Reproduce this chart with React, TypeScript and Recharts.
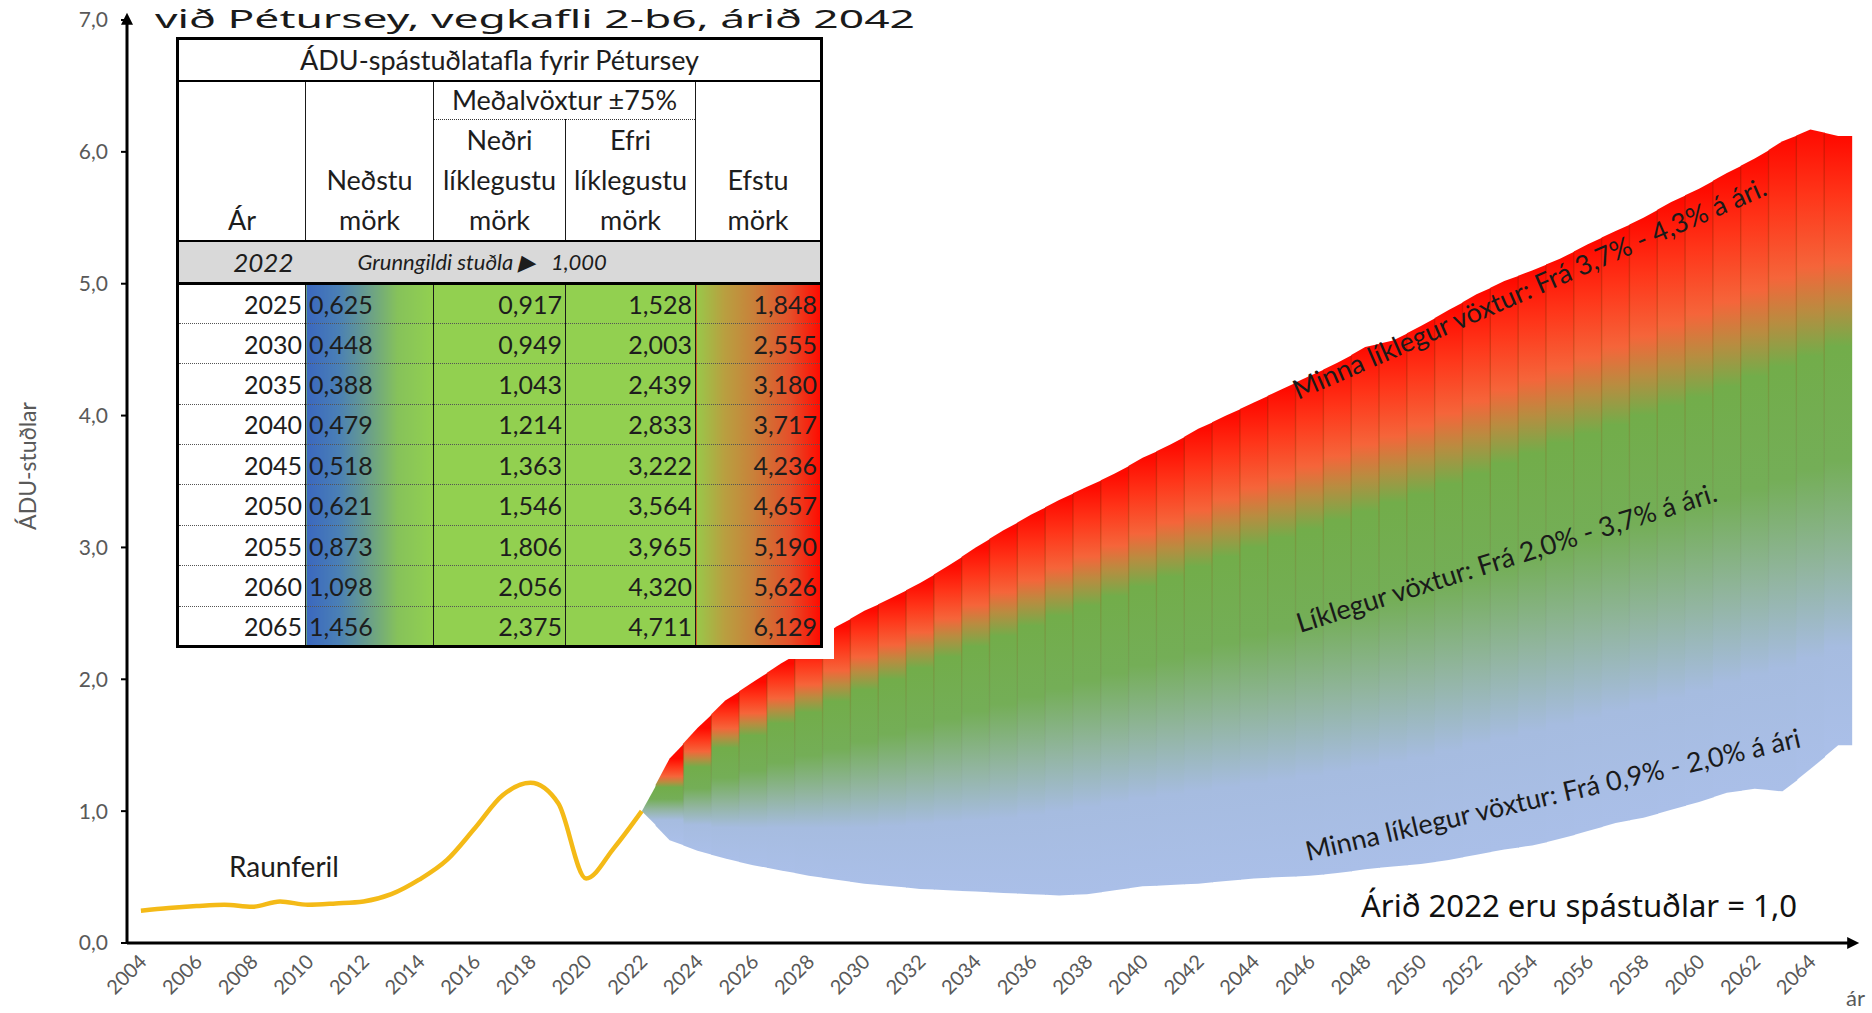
import React from 'react';
import { ComposedChart, XAxis, YAxis, Line, Bar } from 'recharts';

// ---------- layout constants ----------
const W = 1872;
const H = 1013;
const M_TOP = 20;
const M_RIGHT = 20;
const X_AXIS_H = 70;
const Y_AXIS_W = 127;
const Y_MAX = 7;
const PLOT_H = H - M_TOP - X_AXIS_H;
const PX = PLOT_H / Y_MAX;
const FONT = 'Lato, "Open Sans", sans-serif';

// ---------- data ----------
const years = [
  '2004', '2005', '2006', '2007', '2008', '2009', '2010', '2011', '2012', '2013',
  '2014', '2015', '2016', '2017', '2018', '2019', '2020', '2021', '2022', '2023',
  '2024', '2025', '2026', '2027', '2028', '2029', '2030', '2031', '2032', '2033',
  '2034', '2035', '2036', '2037', '2038', '2039', '2040', '2041', '2042', '2043',
  '2044', '2045', '2046', '2047', '2048', '2049', '2050', '2051', '2052', '2053',
  '2054', '2055', '2056', '2057', '2058', '2059', '2060', '2061', '2062', '2063',
  '2064', '2065',
];

// Raunferill (actual)
const realYears = [
  '2004', '2005', '2006', '2007', '2008', '2009', '2010', '2011', '2012', '2013',
  '2014', '2015', '2016', '2017', '2018', '2019', '2020', '2021', '2022',
];
const realValues = [
  0.245, 0.265, 0.28, 0.29, 0.275, 0.315, 0.29, 0.3, 0.315, 0.37,
  0.48, 0.63, 0.87, 1.12, 1.215, 1.06, 0.49, 0.72, 1.0,
];

// Forecast fan
const fanYears = [
  '2022', '2023', '2024', '2025', '2026', '2027', '2028', '2029', '2030', '2031',
  '2032', '2033', '2034', '2035', '2036', '2037', '2038', '2039', '2040', '2041',
  '2042', '2043', '2044', '2045', '2046', '2047', '2048', '2049', '2050', '2051',
  '2052', '2053', '2054', '2055', '2056', '2057', '2058', '2059', '2060', '2061',
  '2062', '2063', '2064', '2065',
];
const fanLow = [
  1.0, 0.78, 0.7, 0.64, 0.59, 0.55, 0.51, 0.48, 0.45, 0.43,
  0.41, 0.4, 0.39, 0.38, 0.37, 0.36, 0.37, 0.4, 0.43, 0.44,
  0.45, 0.47, 0.49, 0.5, 0.51, 0.53, 0.56, 0.58, 0.6, 0.63,
  0.67, 0.71, 0.74, 0.79, 0.85, 0.91, 0.95, 1.01, 1.07, 1.14,
  1.17, 1.15, 1.32, 1.5,
];
const fanLowLikely = [
  1.0, 0.96, 0.93, 0.917, 0.92, 0.93, 0.935, 0.94, 0.949, 0.965,
  0.985, 1.005, 1.025, 1.043, 1.075, 1.11, 1.145, 1.18, 1.214, 1.245,
  1.275, 1.305, 1.335, 1.363, 1.4, 1.435, 1.47, 1.51, 1.546, 1.6,
  1.65, 1.7, 1.755, 1.806, 1.855, 1.905, 1.955, 2.005, 2.056, 2.12,
  2.185, 2.25, 2.31, 2.375,
];
const fanHighLikely = [
  1.0, 1.2, 1.37, 1.528, 1.63, 1.73, 1.82, 1.91, 2.003, 2.09,
  2.18, 2.27, 2.355, 2.439, 2.52, 2.6, 2.68, 2.755, 2.833, 2.91,
  2.99, 3.07, 3.145, 3.222, 3.29, 3.36, 3.43, 3.5, 3.564, 3.645,
  3.725, 3.805, 3.885, 3.965, 4.035, 4.105, 4.18, 4.25, 4.32, 4.4,
  4.48, 4.555, 4.635, 4.711,
];
const fanHigh = [
  1.0, 1.4, 1.63, 1.84, 1.98, 2.12, 2.25, 2.4, 2.52, 2.62,
  2.73, 2.86, 3.0, 3.13, 3.25, 3.36, 3.46, 3.56, 3.68, 3.78,
  3.9, 4.0, 4.1, 4.2, 4.3, 4.4, 4.52, 4.57, 4.68, 4.8,
  4.92, 5.02, 5.1, 5.19, 5.3, 5.4, 5.5, 5.62, 5.72, 5.84,
  5.95, 6.08, 6.17, 6.12,
];

const yTicks = [0, 1, 2, 3, 4, 5, 6, 7];

// Table
const tableYears = ['2025', '2030', '2035', '2040', '2045', '2050', '2055', '2060', '2065'];
const tableLowest = ['0,625', '0,448', '0,388', '0,479', '0,518', '0,621', '0,873', '1,098', '1,456'];
const tableLowLikely = ['0,917', '0,949', '1,043', '1,214', '1,363', '1,546', '1,806', '2,056', '2,375'];
const tableHighLikely = ['1,528', '2,003', '2,439', '2,833', '3,222', '3,564', '3,965', '4,320', '4,711'];
const tableHighest = ['1,848', '2,555', '3,180', '3,717', '4,236', '4,657', '5,190', '5,626', '6,129'];

const chartData = years.map((yr) => {
  const ri = realYears.indexOf(yr);
  const fi = fanYears.indexOf(yr);
  return {
    year: yr,
    real: ri >= 0 ? realValues[ri] : null,
    band: fi >= 0 ? [fanLow[fi], fanHigh[fi]] : null,
  };
});

// ---------- fan column shape ----------
const FanShape = (props: any) => {
  const { x, y, width, payload } = props;
  if (!payload) return null;
  const i = fanYears.indexOf(payload.year);
  if (i < 0 || x == null || y == null) return null;
  const hi = fanHigh[i];
  const lo = fanLow[i];
  const yOf = (v: number) => y + (hi - v) * PX;
  const hasPrev = i > 0;
  const hasNext = i < fanYears.length - 1;
  const xc = x + width / 2;
  const xl = hasPrev ? x : xc;
  const xr = x + width + (hasNext ? 0.7 : 0);
  const lt = hasPrev ? yOf((fanHigh[i - 1] + hi) / 2) : yOf(hi);
  const lb = hasPrev ? yOf((fanLow[i - 1] + lo) / 2) : yOf(lo);
  const rt = hasNext ? yOf((fanHigh[i + 1] + hi) / 2) : yOf(hi);
  const rb = hasNext ? yOf((fanLow[i + 1] + lo) / 2) : yOf(lo);
  const ct = yOf(hi);
  const cb = yOf(lo);

  // gradient (first sliver uses the next column's colours)
  const g = i === 0 ? 1 : i;
  const gh = fanHigh[g];
  const gl = fanLow[g];
  const ghl = fanHighLikely[g];
  const gll = fanLowLikely[g];
  const gy1 = i === 0 ? yOf(gh) : ct;
  const gy2 = i === 0 ? yOf(gl) : cb;
  const span = gh - gl;
  const off = (v: number) => Math.max(0, Math.min(1, (gh - v) / span));
  const redBand = gh - ghl;
  const midBand = ghl - gll;
  const lowBand = gll - gl;
  const stops: [number, string][] = [
    [0, '#ff0a00'],
    [off(gh - 0.32 * redBand), '#ff3519'],
    [off(gh - 0.68 * redBand), '#f5653a'],
    [off(ghl + 0.1 * redBand), '#b98c40'],
    [off(ghl - 0.08 * midBand), '#72ad4a'],
    [off(ghl - 0.45 * midBand), '#74ae57'],
    [off(gll + 0.22 * midBand), '#92b5a0'],
    [off(gll - 0.15 * lowBand), '#a6bce0'],
    [1, '#aabfe8'],
  ];
  const gid = `fan-g-${i}`;
  const sid = `fan-s-${i}`;
  const pts = [
    [xl, lt],
    [xc, ct],
    [xr, rt],
    [xr, rb],
    [xc, cb],
    [xl, lb],
  ]
    .map((p) => `${p[0]},${p[1]}`)
    .join(' ');
  return (
    <g>
      <defs>
        <linearGradient id={gid} gradientUnits="userSpaceOnUse" x1={0} x2={0} y1={gy1} y2={gy2}>
          {stops.map((s, k) => (
            <stop key={k} offset={s[0]} stopColor={s[1]} />
          ))}
        </linearGradient>
        <linearGradient id={sid} gradientUnits="userSpaceOnUse" x1={0} x2={0} y1={gy1} y2={gy2}>
          <stop offset={0} stopColor="#b81000" stopOpacity={0.6} />
          <stop offset={off(ghl)} stopColor="#8a5a10" stopOpacity={0.28} />
          <stop offset={off(gll)} stopColor="#607080" stopOpacity={0.0} />
          <stop offset={1} stopColor="#607080" stopOpacity={0} />
        </linearGradient>
      </defs>
      <polygon points={pts} fill={`url(#${gid})`} stroke="none" />
      {hasPrev && i > 1 ? (
        <line x1={xl} y1={lt + 1} x2={xl} y2={lb} stroke={`url(#${sid})`} strokeWidth={1.4} />
      ) : null}
    </g>
  );
};

// ---------- axis ticks ----------
const XTick = (props: any) => {
  const { x, y, payload } = props;
  const ax = x + 7;
  const ay = y + 12;
  return (
    <text
      x={ax}
      y={ay}
      transform={`rotate(-45 ${ax} ${ay})`}
      textAnchor="end"
      fill="#595959"
      fontSize={20}
      fontFamily={FONT}
    >
      {payload.value}
    </text>
  );
};

const fmtY = (v: number) => v.toFixed(1).replace('.', ',');

// ---------- table ----------
const cellBorder = '1.5px solid #1a1a1a';
const dotted = '1.5px dotted #555';

const InsetTable = () => {
  const th: React.CSSProperties = {
    borderLeft: cellBorder,
    borderRight: cellBorder,
    textAlign: 'center',
    verticalAlign: 'bottom',
    fontSize: 27,
    lineHeight: '40px',
    padding: 0,
    background: '#fff',
  };
  const num: React.CSSProperties = {
    fontSize: 25,
    padding: '0 3px',
    borderLeft: cellBorder,
    borderRight: cellBorder,
    borderTop: dotted,
    lineHeight: '38px',
    whiteSpace: 'nowrap',
  };
  return (
    <div style={{ position: 'absolute', left: 165, top: 37, padding: '0 11px 11px 11px', background: '#fff' }}>
      <table
        style={{
          borderCollapse: 'collapse',
          border: '3px solid #000',
          fontFamily: FONT,
          color: '#1d1d1d',
          tableLayout: 'fixed',
          width: 644,
          background: '#fff',
        }}
      >
        <colgroup>
          <col style={{ width: 128 }} />
          <col style={{ width: 128 }} />
          <col style={{ width: 132 }} />
          <col style={{ width: 130 }} />
          <col style={{ width: 126 }} />
        </colgroup>
        <tbody>
          <tr style={{ height: 42 }}>
            <td colSpan={5} style={{ textAlign: 'center', fontSize: 27, lineHeight: '38px', borderBottom: '2px solid #000', padding: 0 }}>
              ÁDU-spástuðlatafla fyrir Pétursey
            </td>
          </tr>
          <tr style={{ height: 39 }}>
            <td rowSpan={2} style={th}>Ár</td>
            <td rowSpan={2} style={th}>
              Neðstu
              <br />
              mörk
            </td>
            <td colSpan={2} style={{ ...th, verticalAlign: 'middle', borderBottom: '1.5px dotted #333', lineHeight: '36px' }}>
              Meðalvöxtur ±75%
            </td>
            <td rowSpan={2} style={th}>
              Efstu
              <br />
              mörk
            </td>
          </tr>
          <tr style={{ height: 120 }}>
            <td style={th}>
              Neðri
              <br />
              líklegustu
              <br />
              mörk
            </td>
            <td style={th}>
              Efri
              <br />
              líklegustu
              <br />
              mörk
            </td>
          </tr>
          <tr style={{ height: 42, background: '#d9d9d9', borderTop: '2px solid #000', borderBottom: '3px solid #000' }}>
            <td style={{ fontStyle: 'italic', fontSize: 26, textAlign: 'right', paddingRight: 12 }}>2022</td>
            <td colSpan={4} style={{ fontStyle: 'italic', fontSize: 22, paddingLeft: 52, whiteSpace: 'nowrap' }}>
              Grunngildi stuðla ▶&nbsp;&nbsp;&nbsp;1,000
            </td>
          </tr>
          {tableYears.map((yr, k) => (
            <tr key={yr} style={{ height: 40.4 }}>
              <td style={{ ...num, textAlign: 'right', background: '#fff', borderTop: k === 0 ? 'none' : dotted }}>{yr}</td>
              <td
                style={{
                  ...num,
                  textAlign: 'left',
                  borderTop: k === 0 ? 'none' : dotted,
                  background: 'linear-gradient(90deg, #3a67bf 0%, #4a7fb6 25%, #6ba088 50%, #86c25a 72%, #92d050 100%)',
                }}
              >
                {tableLowest[k]}
              </td>
              <td style={{ ...num, textAlign: 'right', background: '#92d050', borderTop: k === 0 ? 'none' : dotted }}>
                {tableLowLikely[k]}
              </td>
              <td style={{ ...num, textAlign: 'right', background: '#92d050', borderTop: k === 0 ? 'none' : dotted }}>
                {tableHighLikely[k]}
              </td>
              <td
                style={{
                  ...num,
                  textAlign: 'right',
                  borderTop: k === 0 ? 'none' : dotted,
                  background: 'linear-gradient(90deg, #98c84a 0%, #b8a040 22%, #c8823a 45%, #e4502a 75%, #ff0a00 100%)',
                }}
              >
                {tableHighest[k]}
              </td>
            </tr>
          ))}
        </tbody>
      </table>
    </div>
  );
};

// ---------- overlay texts ----------
const Overlay = () => (
  <svg
    width={W}
    height={H}
    style={{ position: 'absolute', left: 0, top: 0, pointerEvents: 'none' }}
  >
    <text x={155} y={28} fontSize={25} fontFamily='"Noto Sans", sans-serif' fill="#1a1a1a" textLength={760} lengthAdjust="spacingAndGlyphs">
      við Pétursey, vegkafli 2-b6, árið 2042
    </text>
    <text
      x={0}
      y={0}
      transform="translate(36 466) rotate(-90)"
      textAnchor="middle"
      fontSize={23}
      fontFamily={FONT}
      fill="#595959"
    >
      ÁDU-stuðlar
    </text>
    <text x={1846} y={1006} fontSize={22} fontFamily={FONT} fill="#595959">
      ár
    </text>
    <text x={229} y={877} fontSize={28} fontFamily={FONT} fill="#1d1d1d">
      Raunferil
    </text>
    <text
      x={1361}
      y={917}
      fontSize={30}
      fontFamily='"Noto Sans", sans-serif'
      fill="#111"
      textLength={436}
      lengthAdjust="spacingAndGlyphs"
    >
      Árið 2022 eru spástuðlar = 1,0
    </text>
    <text x={0} y={0} transform="translate(1298 400) rotate(-23.6)" fontSize={27} fontFamily={FONT} fill="#1a1a1a">
      Minna líklegur vöxtur: Frá 3,7% - 4,3% á ári.
    </text>
    <text x={0} y={0} transform="translate(1300 633) rotate(-17.5)" fontSize={27} fontFamily={FONT} fill="#1a1a1a">
      Líklegur vöxtur: Frá 2,0% - 3,7% á ári.
    </text>
    <text x={0} y={0} transform="translate(1308 861) rotate(-13)" fontSize={27} fontFamily={FONT} fill="#1a1a1a">
      Minna líklegur vöxtur: Frá 0,9% - 2,0% á ári
    </text>
  </svg>
);

export default function App() {
  return (
    <div style={{ position: 'absolute', left: 0, top: 0, width: W, height: H, background: '#fff', overflow: 'hidden' }}>
      <ComposedChart
        width={W}
        height={H}
        data={chartData}
        margin={{ top: M_TOP, right: M_RIGHT, bottom: 0, left: 0 }}
        barCategoryGap={0}
        barGap={0}
      >
        <defs>
          <marker id="arrowHead" viewBox="0 0 10 10" refX="4" refY="5" markerWidth="4.5" markerHeight="4" orient="auto-start-reverse">
            <path d="M0,0 L10,5 L0,10 z" fill="#000" />
          </marker>
        </defs>
        <XAxis
          dataKey="year"
          type="category"
          height={X_AXIS_H}
          interval={1}
          tickLine={false}
          tick={<XTick />}
          axisLine={{ stroke: '#000', strokeWidth: 3, markerEnd: 'url(#arrowHead)' }}
        />
        <YAxis
          type="number"
          domain={[0, Y_MAX]}
          ticks={yTicks}
          width={Y_AXIS_W}
          tickFormatter={fmtY}
          tickSize={6}
          tickMargin={13}
          tickLine={{ stroke: '#000', strokeWidth: 2 }}
          tick={{ fill: '#595959', fontSize: 21, fontFamily: FONT }}
          axisLine={{ stroke: '#000', strokeWidth: 3, markerStart: 'url(#arrowHead)' }}
          allowDataOverflow
        />
        <Bar dataKey="band" shape={FanShape} isAnimationActive={false} />
        <Line
          dataKey="real"
          type="monotone"
          stroke="#f4ba17"
          strokeWidth={4.5}
          dot={false}
          activeDot={false}
          isAnimationActive={false}
          connectNulls={false}
        />
      </ComposedChart>
      <Overlay />
      <InsetTable />
    </div>
  );
}
